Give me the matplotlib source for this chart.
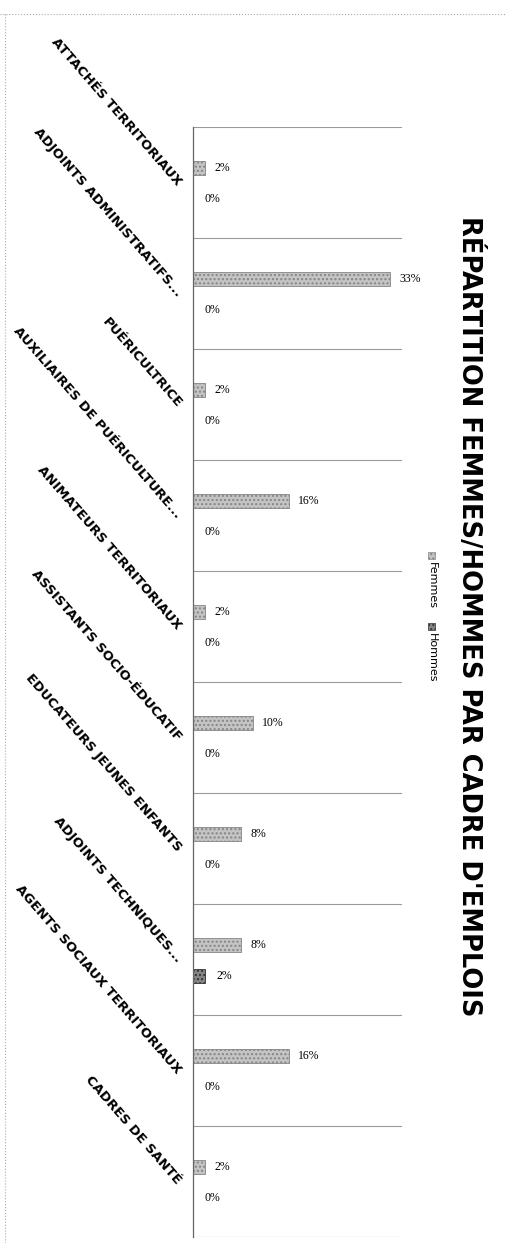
import matplotlib
matplotlib.use("Agg")
import matplotlib.pyplot as plt
from matplotlib.patches import Rectangle
import numpy as np

# Données
categories = ["ATTACHÉS TERRITORIAUX", "ADJOINTS ADMINISTRATIFS...", "PUÉRICULTRICE",
              "AUXILIAIRES DE PUÉRICULTURE...", "ANIMATEURS TERRITORIAUX",
              "ASSISTANTS SOCIO-ÉDUCATIF", "EDUCATEURS JEUNES ENFANTS",
              "ADJOINTS TECHNIQUES...", "AGENTS SOCIAUX TERRITORIAUX", "CADRES DE SANTÉ"]
femmes = [2, 33, 2, 16, 2, 10, 8, 8, 16, 2]
hommes = [0, 0, 0, 0, 0, 0, 0, 2, 0, 0]
titre = "RÉPARTITION FEMMES/HOMMES PAR CADRE D'EMPLOIS"

W, H = 510, 1243
fig = plt.figure(figsize=(W / 100, H / 100), dpi=100)

def fx(px):
    return px / W

def fy(py):
    return 1 - py / H

ax = fig.add_axes([fx(193), fy(1237), fx(402) - fx(193), fy(127) - fy(1237)])

y = np.arange(len(categories))
col_f = "#c4c4c4"
col_h = "#858585"
ax.barh(y - 0.13, femmes, height=0.13, color=col_f, edgecolor="#858585",
        hatch="....", linewidth=0.6)
ax.barh(y + 0.15, hommes, height=0.13, color=col_h, edgecolor="#333333",
        hatch="....", linewidth=0.6)

for i in range(len(categories)):
    ax.annotate(f"{femmes[i]}%", (femmes[i], y[i] - 0.13), xytext=(7, 0),
                textcoords="offset points", ha="left", va="center",
                fontsize=8.5, family="Liberation Serif")
    ax.annotate(f"{hommes[i]}%", (hommes[i], y[i] + 0.15), xytext=(8, 0),
                textcoords="offset points", ha="left", va="center",
                fontsize=8.5, family="Liberation Serif")
    ax.annotate(categories[i], (0, y[i]), xytext=(-10, -1), textcoords="offset points",
                rotation=-49, rotation_mode="anchor", ha="right", va="center",
                fontsize=9.5, fontweight="bold")

for k in range(len(categories) + 1):
    ax.axhline(k - 0.5, color="#9a9a9a", lw=0.8)

ax.set_xlim(0, 35)
ax.set_ylim(len(categories) - 0.5, -0.5)
ax.set_xticks([])
ax.set_yticks([])
for s in ["top", "right", "bottom"]:
    ax.spines[s].set_visible(False)
ax.spines["left"].set_color("#666666")
ax.spines["left"].set_linewidth(0.9)

# titre et légende (tournés)
fig.text(fx(469), fy(616), titre, rotation=-90, ha="center", va="center",
         fontsize=18.5, fontweight="bold")

for ytop, label, c, ec in [(552, "Femmes", col_f, "#858585"), (623, "Hommes", col_h, "#333333")]:
    fig.patches.append(Rectangle((fx(428), fy(ytop + 7)), fx(7), 7 / H, transform=fig.transFigure,
                                 facecolor=c, edgecolor=ec, hatch="....", linewidth=0.5))
    fig.text(fx(432), fy(ytop + 10), label, rotation=-90, ha="center", va="top", fontsize=8)

# cadre
fig.add_artist(plt.Line2D([fx(5), fx(5)], [fy(14), fy(1243)], color="#aaaaaa", lw=0.8,
                          linestyle=":", transform=fig.transFigure))
fig.add_artist(plt.Line2D([fx(0), fx(505)], [fy(14), fy(14)], color="#aaaaaa", lw=0.8,
                          linestyle=":", transform=fig.transFigure))

fig.savefig("out.png", dpi=100)
